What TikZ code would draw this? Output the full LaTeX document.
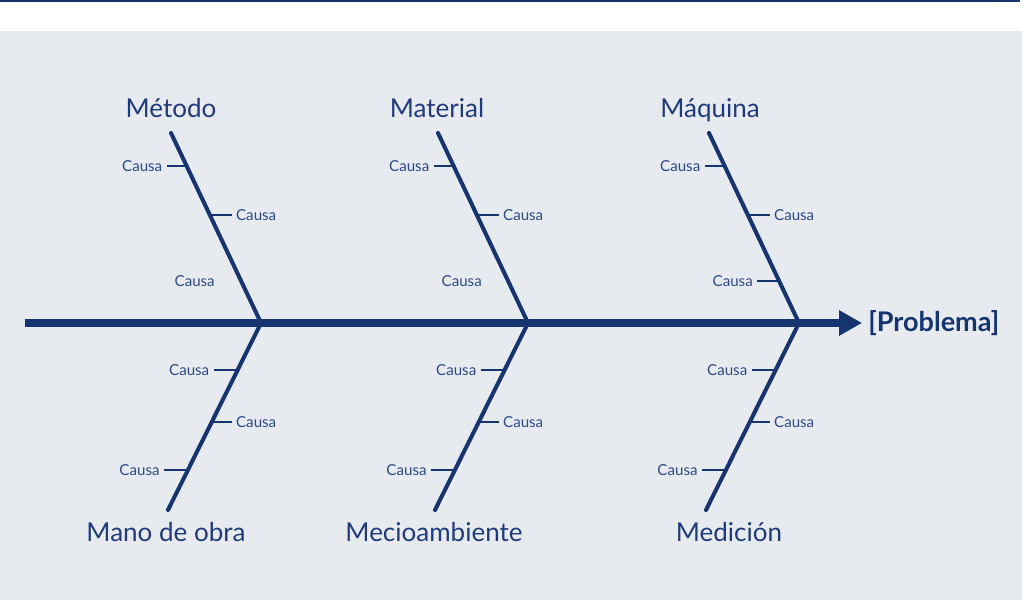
\documentclass[tikz,border=0pt]{standalone}
\usepackage{fontspec}
\setmainfont{Lato}
\usetikzlibrary{positioning}
\usetikzlibrary{arrows.meta}

\definecolor{fishblue}{HTML}{16346F}
\definecolor{labelblue}{HTML}{1F3B7D}
\definecolor{causeblue}{HTML}{2E4A8A}
\definecolor{paper}{HTML}{E7EBF0}

\begin{document}
\begin{tikzpicture}[x=0.02cm, y=-0.02cm,
    bone/.style={draw=fishblue, line width=2.3pt, line cap=round},
    tick/.style={draw=fishblue, line width=1.1pt, shorten >=2.3pt},
    cause/.style={text=causeblue, font=\fontsize{8.6}{10}\selectfont, inner sep=0pt},
    branch/.style={text=labelblue, font=\fontsize{14.8}{17}\selectfont, inner sep=0pt, anchor=base}]
    \useasboundingbox (0,0) rectangle (1024,604);

    % frame
    \fill[fishblue] (0,0) rectangle (1020,2.5);
    \fill[paper] (0,31) rectangle (1022,600);

    % Spine
    \coordinate (tail) at (25,323);
    \node[text=fishblue, font=\bfseries\fontsize{15.4}{18}\selectfont, inner sep=0pt, anchor=west] (problem) at (868,323) {[Problema]};
    \draw[fishblue, line width=4.5pt, shorten >=3.4pt, -{Triangle[length=13pt, width=13.6pt]}] (tail) -- (problem.west);

    % Bones
    \foreach \j/\n in {261/1, 528/2, 799/3} {
        \coordinate (joint\n) at (\j,323);
        \coordinate (head\n) at (\j-90,133);
        \coordinate (foot\n) at (\j-93,510);
        \draw[bone] (head\n) -- (joint\n) -- (foot\n);

        % upper causes
        \coordinate (u\n a) at (\j-74.4,166);
        \coordinate (u\n b) at (\j-51.2,215);
        \coordinate (u\n c) at (\j-19.9,281);
        \node[cause, anchor=east] (cu\n a) at (\j-98.4,166) {Causa};
        \node[cause, anchor=west] (cu\n b) at (\j-25.2,215) {Causa};
        \node[cause, anchor=east] (cu\n c) at (\j-45.9,281) {Causa};
        \draw[tick] (u\n a) -- (cu\n a.east);
        \draw[tick] (u\n b) -- (cu\n b.west);

        % lower causes
        \coordinate (l\n a) at (\j-23.4,370);
        \coordinate (l\n b) at (\j-49.2,422);
        \coordinate (l\n c) at (\j-73.1,470);
        \node[cause, anchor=east] (cl\n a) at (\j-51.4,370) {Causa};
        \node[cause, anchor=west] (cl\n b) at (\j-25.2,422) {Causa};
        \node[cause, anchor=east] (cl\n c) at (\j-101.1,470) {Causa};
        \draw[tick] (l\n a) -- (cl\n a.east);
        \draw[tick] (l\n b) -- (cl\n b.west);
        \draw[tick] (l\n c) -- (cl\n c.east);
    }
    % only the last upper bone has its third tick
    \draw[tick] (u3c) -- (cu3c.east);

    % Branch names
    \node[branch] (metodo) at (171,118) {Método};
    \node[branch] (material) at (437,118) {Material};
    \node[branch] (maquina) at (710,118) {Máquina};
    \node[branch] (mano) at (166,541) {Mano de obra};
    \node[branch] (medio) at (434,541) {Mecioambiente};
    \node[branch] (medicion) at (729,541) {Medición};
\end{tikzpicture}
\end{document}
